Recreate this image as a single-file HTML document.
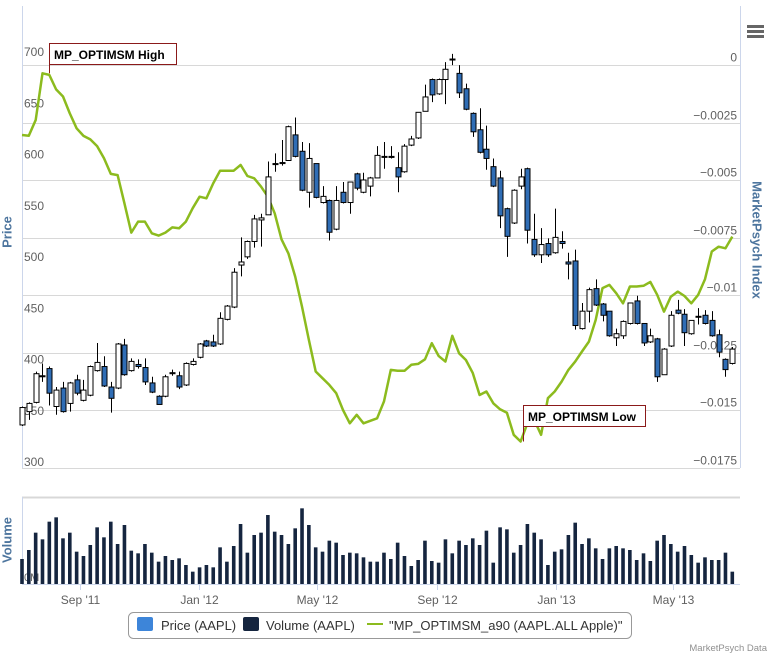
<!DOCTYPE html>
<html><head><meta charset="utf-8"><style>
html,body{margin:0;padding:0;background:#fff;}
svg{display:block;font-family:"Liberation Sans","DejaVu Sans",sans-serif;}
</style></head><body>
<svg id="chart" width="773" height="657" viewBox="0 0 773 657" xmlns="http://www.w3.org/2000/svg">
<g id="grid"></g>
<g id="axes"></g>
<g id="volume"></g>
<g id="line"></g>
<g id="candles"></g>
<g id="flags"></g>
<text x="7" y="232" transform="rotate(-90 7 232)" text-anchor="middle" dominant-baseline="central" fill="#4d759e" font-size="13" font-weight="bold">Price</text>
<text x="757" y="240" transform="rotate(90 757 240)" text-anchor="middle" dominant-baseline="central" fill="#4d759e" font-size="13" font-weight="bold">MarketPsych Index</text>
<text x="7" y="540" transform="rotate(-90 7 540)" text-anchor="middle" dominant-baseline="central" fill="#4d759e" font-size="13" font-weight="bold">Volume</text>
<g>
<rect x="745" y="22" width="22" height="20" fill="#fff"/>
<rect x="747" y="25" width="17" height="3" fill="#666"/>
<rect x="747" y="30" width="17" height="3" fill="#666"/>
<rect x="747" y="35" width="17" height="3" fill="#666"/>
</g>
<g>
<rect x="128.5" y="612.5" width="503" height="26" rx="5" fill="#fff" stroke="#999"/>
<g><rect x="137" y="617" width="16" height="14" rx="2" fill="#3d85d9"/><text x="161" y="630" font-size="13" fill="#333">Price (AAPL)</text></g>
<g><rect x="243" y="617" width="16" height="14" rx="2" fill="#15253f"/><text x="266" y="630" font-size="13" fill="#333">Volume (AAPL)</text></g>
<g><rect x="367" y="623" width="16" height="2" fill="#8cbb1e"/><text x="389" y="630" font-size="13" fill="#333">"MP_OPTIMSM_a90 (AAPL.ALL Apple)"</text></g>
</g>
<text x="767" y="651" text-anchor="end" font-size="9.5" fill="#909090">MarketPsych Data</text>
</svg>
<script>
const opens=[342,355,364,390,397,360,378,363,386,366,371,395,399,379,378,420,395,401,398,383,370,370,392,390,381,401,408,424,423,421,445,457,498,506,521,
542,547,596,597,600,625,609,569,597,559,561,533,569,559,587,569,575,583,604,604,593,589,615,622,648,679,665,679,699,685,670,646,630,611,594,583,553,
539,575,592,523,508,519,510,521,501,502,436,453,475,460,453,427,429,441,463,441,423,426,391,419,454,450,431,448,449,444,430,406,402];
const highs=[360,364,394,402,399,379,384,384,391,386,400,422,409,384,422,426,407,406,407,389,371,391,396,394,403,407,422,425,430,452,459,495,525,522,547,
548,599,607,620,634,642,618,617,597,575,562,575,579,579,588,588,584,614,618,614,608,616,624,647,674,680,680,696,704,693,675,647,651,634,602,590,554,
572,592,593,548,534,524,553,531,510,513,461,476,484,461,453,436,444,461,468,441,436,427,417,453,464,455,444,456,454,453,435,407,418];
const lows=[341,347,363,384,361,352,354,355,371,365,370,394,379,354,377,390,394,397,381,373,362,369,390,377,380,400,407,418,418,420,444,456,487,504,515,
516,547,589,595,600,603,570,554,563,558,522,532,558,548,571,568,565,583,592,602,569,588,614,621,648,657,664,655,693,661,649,623,607,591,574,534,506,
538,572,519,506,500,506,509,514,484,435,435,442,458,443,428,419,426,440,440,419,422,384,391,418,450,419,430,440,440,428,408,389,401];
const closes=[359,363,392,389,373,376,355,383,373,376,399,403,380,368,421,391,404,399,384,374,362,389,393,379,402,404,421,419,419,446,458,491,501,521,543,
544,584,597,598,633,604,571,602,564,565,530,561,559,579,573,581,583,605,604,603,584,614,621,647,662,664,679,689,699,666,650,628,608,602,575,546,526,
571,584,532,508,518,508,525,519,499,439,453,474,459,449,429,431,443,461,441,422,429,389,416,449,451,432,444,448,441,429,413,396,416];
const volumes=[75,102,154,134,187,200,137,154,97,84,117,170,140,187,120,177,100,92,120,94,67,84,72,77,57,37,50,57,50,110,67,114,180,94,147,154,207,157,147,120,167,227,177,110,97,130,124,87,94,92,80,67,67,94,
75,124,84,54,72,130,69,64,134,92,130,117,137,117,160,64,170,164,94,117,180,154,134,57,97,104,147,184,120,137,107,75,107,114,107,102,72,92,69,130,147,120,97,114,87,64,80,72,72,94,37];
const optimism=[-0.00304,-0.00307,-0.00239,-0.00036,-0.00043,-0.00106,-0.00137,-0.0021,-0.00275,-0.00308,-0.00323,-0.00352,-0.00405,-0.00473,-0.00478,-0.006,-0.00728,-0.0068,-0.0068,-0.00731,-0.00741,-0.00728,-0.00705,-0.00709,-0.0068,-0.00622,-0.00572,-0.00579,-0.00514,-0.00459,-0.00459,-0.00459,-0.00434,-0.00482,-0.00492,
-0.00528,-0.00572,-0.00644,-0.00757,-0.00818,-0.00919,-0.01049,-0.01194,-0.01331,-0.0136,-0.01389,-0.01425,-0.01498,-0.01556,-0.01519,-0.01556,-0.01545,-0.01534,-0.01461,-0.01324,-0.01328,-0.01328,-0.01302,-0.01298,-0.01278,-0.01208,-0.01263,-0.01288,-0.01176,-0.01252,-0.01281,-0.01338,-0.01433,-0.01418,-0.01469,-0.01495,-0.0151,
-0.01606,-0.01635,-0.01556,-0.01541,-0.01606,-0.01447,-0.01418,-0.01375,-0.01324,-0.01288,-0.01244,-0.01201,-0.01107,-0.00969,-0.00955,-0.00991,-0.01035,-0.00962,-0.00962,-0.00959,-0.00942,-0.00998,-0.01071,-0.01006,-0.00984,-0.01003,-0.01035,-0.00998,-0.0093,-0.0081,-0.00789,-0.00796,-0.00745];
const startDate="2011-07-04";
const xTickDates=["2011-09-01","2012-01-01","2012-05-01","2012-09-01","2013-01-01","2013-05-01"];
const xTickLabels=["Sep '11","Jan '12","May '12","Sep '12","Jan '13","May '13"];
const priceTicks=[300,350,400,450,500,550,600,650,700];
const indexTicks=[0,-0.0025,-0.005,-0.0075,-0.01,-0.0125,-0.015,-0.0175];
const indexTickLabels=["0","−0.0025","−0.005","−0.0075","−0.01","−0.0125","−0.015","−0.0175"];
const highFlagIndex=3, lowFlagIndex=73;

const NS="http://www.w3.org/2000/svg";
const X0=22, X1=732.3, N=opens.length;
function xScale(i){return X0+i*(X1-X0)/(N-1);}
function yPrice(p){return 468-(p-300)*1.025;}
function yIndex(v){return 65+(0-v)/0.0175*403;}
function yVol(v){return 584-v*87/261;}
function dateIdx(s){return (new Date(s+"T00:00:00Z")-new Date(startDate+"T00:00:00Z"))/(7*864e5);}
function mk(tag,attrs,parent){const e=document.createElementNS(NS,tag);for(const k in attrs)e.setAttribute(k,attrs[k]);parent.appendChild(e);return e;}

const grid=document.getElementById('grid'),axes=document.getElementById('axes');
indexTicks.forEach((v,k)=>{
  const y=Math.round(yIndex(v))+0.5;
  const l=mk('line',{x1:X0,x2:740,y1:y,y2:y,stroke:'#d8d8d8','stroke-width':1},grid);
  
  
  const t=mk('text',{x:737,y:y-4,'text-anchor':'end','font-size':12,fill:'#606060'},axes);
  t.textContent=indexTickLabels[k];
  
  
});
priceTicks.forEach(p=>{
  const t=mk('text',{x:24,y:yPrice(p)-2,'font-size':12,fill:'#606060'},axes);
  t.textContent=p;
  
  
});
mk('line',{x1:22.5,x2:22.5,y1:6,y2:468,stroke:'#ccd6eb'},axes);
mk('line',{x1:740.5,x2:740.5,y1:6,y2:468,stroke:'#ccd6eb'},axes);
mk('line',{x1:22,x2:740,y1:497.5,y2:497.5,stroke:'#d8d8d8','stroke-width':2},axes);
mk('line',{x1:22.5,x2:22.5,y1:497,y2:584,stroke:'#ccd6eb'},axes);
mk('line',{x1:22,x2:740,y1:584.5,y2:584.5,stroke:'#ccd6eb'},axes);
const zt=mk('text',{x:24,y:581,'font-size':11,fill:'#606060'},axes);zt.textContent="0M";
xTickDates.forEach((d,k)=>{
  const x=Math.round(xScale(dateIdx(d)))+0.5;
  mk('line',{x1:x,x2:x,y1:584,y2:590,stroke:'#ccd6eb'},axes);
  const t=mk('text',{x:x,y:604,'text-anchor':'middle','font-size':12,fill:'#606060'},axes);
  t.textContent=xTickLabels[k];
  
  
});

const vg=document.getElementById('volume');
volumes.forEach((v,i)=>{
  const y=yVol(v);
  const r=mk('rect',{x:xScale(i)-1.8,y:y,width:3.6,height:584-y,fill:'#15253f'},vg);
  
  
});

const lg=document.getElementById('line');
const pts=optimism.map((v,i)=>xScale(i).toFixed(1)+','+yIndex(v).toFixed(1)).join(' ');
const pl=mk('polyline',{points:pts,fill:'none',stroke:'#8cbb1e','stroke-width':2.5,'stroke-linejoin':'round'},lg);



const cg=document.getElementById('candles');
for(let i=0;i<N;i++){
  const x=Math.round(xScale(i))+0.5;
  const g=mk('g',{},cg);
  
  
  mk('line',{x1:x,x2:x,y1:yPrice(highs[i]),y2:yPrice(lows[i]),stroke:'#000','stroke-width':1},g);
  const top=yPrice(Math.max(opens[i],closes[i])),bot=yPrice(Math.min(opens[i],closes[i]));
  const down=closes[i]<opens[i];
  mk('rect',{x:x-2.5,y:top,width:5,height:Math.max(bot-top,1),fill:down?'#2f6db5':'#fff',stroke:'#000','stroke-width':1},g);
}

const fg=document.getElementById('flags');
const hx=xScale(highFlagIndex)+6, hy=yIndex(optimism[highFlagIndex]);
mk('line',{x1:49.5,x2:49.5,y1:65,y2:hy,stroke:'#8b1a1a'},fg);
const hb=mk('g',{},fg);


mk('rect',{x:49.5,y:43.5,width:127,height:21,fill:'#fff',stroke:'#8b1a1a'},hb);
const ht=mk('text',{x:54,y:59,'font-size':12,'font-weight':'bold',fill:'#000'},hb);ht.textContent="MP_OPTIMSM High";
const ly=yIndex(optimism[lowFlagIndex]);
mk('line',{x1:523.5,x2:523.5,y1:427,y2:ly,stroke:'#8b1a1a'},fg);
const lb=mk('g',{},fg);


mk('rect',{x:523.5,y:405.5,width:122,height:21,fill:'#fff',stroke:'#8b1a1a'},lb);
const lt=mk('text',{x:528,y:421,'font-size':12,'font-weight':'bold',fill:'#000'},lb);lt.textContent="MP_OPTIMSM Low";
</script>
</body></html>
